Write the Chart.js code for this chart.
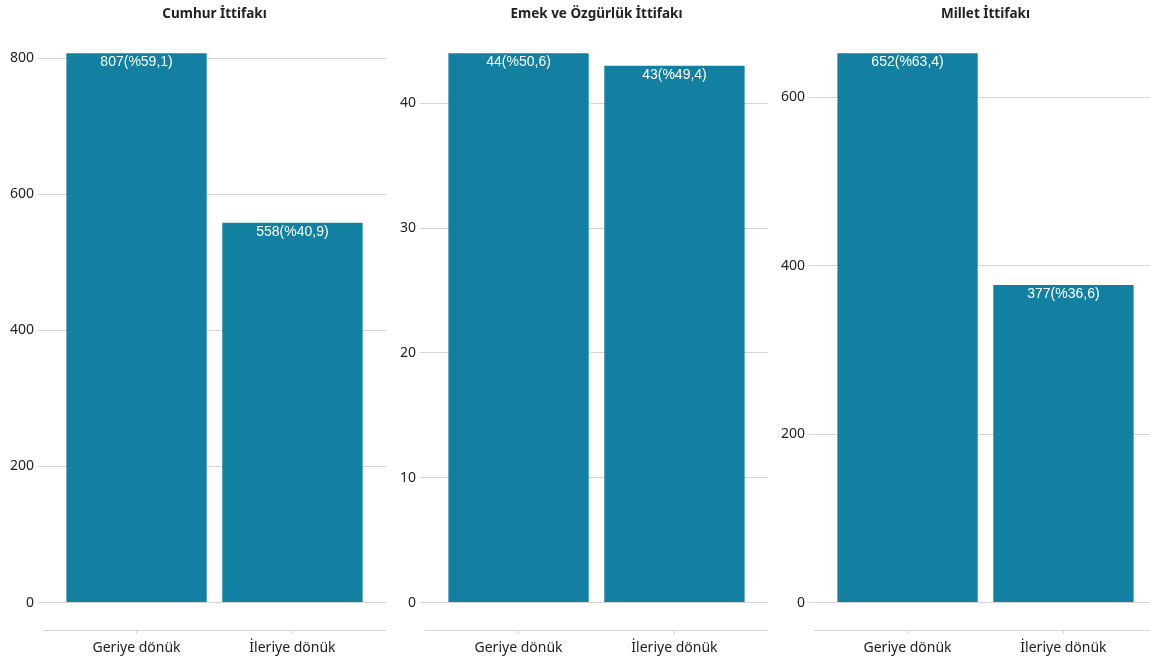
<!DOCTYPE html>
<html>
<head>
<meta charset="utf-8">
<script src="https://cdn.jsdelivr.net/npm/chart.js@4/dist/chart.umd.min.js"></script>
<style>
  html, body { margin: 0; padding: 0; background: #ffffff; overflow: hidden; width: 1150px; height: 664px; }
  .panel { position: absolute; top: 0; width: 386px; height: 664px; }
</style>
</head>
<body>
<div class="panel" style="left:0px"><canvas id="c1" width="386" height="664"></canvas></div>
<div class="panel" style="left:382px"><canvas id="c2" width="386" height="664"></canvas></div>
<div class="panel" style="left:771px"><canvas id="c3" width="386" height="664"></canvas></div>
<script>
// ---- data ----
const categories = ['Geriye dönük', 'İleriye dönük'];
const panelTitles = ['Cumhur İttifakı', 'Emek ve Özgürlük İttifakı', 'Millet İttifakı'];
const cumhurValues = [807, 558];
const emekValues = [44, 43];
const milletValues = [652, 377];
const cumhurPct = ['59,1', '40,9'];
const emekPct = ['50,6', '49,4'];
const milletPct = ['63,4', '36,6'];
const cumhurTicks = [0, 200, 400, 600, 800];
const emekTicks = [0, 10, 20, 30, 40];
const milletTicks = [0, 200, 400, 600];

// ---- styles ----
const BAR_COLOR = '#1380A1';
const GRID_COLOR = '#d4d4d4';
const TEXT_COLOR = '#222222';

const barLabels = {
  id: 'barLabels',
  afterDatasetsDraw(chart, args, opts) {
    const ctx = chart.ctx;
    const meta = chart.getDatasetMeta(0);
    ctx.save();
    ctx.font = '14px "Liberation Sans", Arial, sans-serif';
    ctx.fillStyle = '#ffffff';
    ctx.textAlign = 'center';
    ctx.textBaseline = 'middle';
    meta.data.forEach((bar, i) => {
      ctx.fillText(opts.labels[i], bar.x, bar.y + 9);
    });
    ctx.restore();
  }
};

function makePanel(id, title, values, pcts, yTicks) {
  const maxV = Math.max(0, ...values);
  const labels = values.map((v, i) => v + '(%' + pcts[i] + ')');
  new Chart(document.getElementById(id), {
    type: 'bar',
    data: {
      datasets: [{
        data: values.map((v, i) => ({ x: i + 1, y: v })),
        backgroundColor: BAR_COLOR,
        borderWidth: 0,
        borderColor: BAR_COLOR,
        categoryPercentage: 1.0,
        barPercentage: 0.9
      }]
    },
    options: {
      responsive: false,
      animation: false,
      layout: { padding: 0 },
      plugins: {
        legend: { display: false },
        tooltip: { enabled: false },
        title: {
          display: true,
          text: title,
          fullSize: false,
          color: TEXT_COLOR,
          font: { family: '"Noto Sans", sans-serif', size: 13.5, weight: 'bold', lineHeight: 1.2 },
          padding: { top: 6, bottom: 3.6 }
        },
        barLabels: { labels: labels }
      },
      scales: {
        x: {
          type: 'linear',
          min: 0.4,
          max: categories.length + 0.6,
          offset: false,
          afterBuildTicks: (s) => { s.ticks = categories.map((c, i) => ({ value: i + 1 })); },
          afterFit: (s) => { s.height = 34; },
          ticks: {
            color: TEXT_COLOR,
            font: { family: '"Noto Sans", sans-serif', size: 14 },
            padding: 6,
            maxRotation: 0,
            autoSkip: false,
            callback: (v) => categories[Math.round(v) - 1]
          },
          grid: { offset: false, drawOnChartArea: false, drawTicks: true, tickLength: 4, color: GRID_COLOR },
          border: { display: true, color: GRID_COLOR, width: 1 }
        },
        y: {
          type: 'linear',
          min: -0.05 * maxV,
          max: 1.05 * maxV,
          afterBuildTicks: (s) => { s.ticks = yTicks.map(v => ({ value: v })); },
          afterFit: (s) => { s.width = 43; },
          ticks: {
            color: TEXT_COLOR,
            font: { family: '"Noto Sans", sans-serif', size: 14 },
            padding: 4,
            callback: (v) => String(v)
          },
          grid: { color: GRID_COLOR, drawTicks: true, tickLength: 5 },
          border: { display: false }
        }
      }
    },
    plugins: [barLabels]
  });
}

makePanel('c1', panelTitles[0], cumhurValues, cumhurPct, cumhurTicks);
makePanel('c2', panelTitles[1], emekValues, emekPct, emekTicks);
makePanel('c3', panelTitles[2], milletValues, milletPct, milletTicks);
</script>
</body>
</html>
